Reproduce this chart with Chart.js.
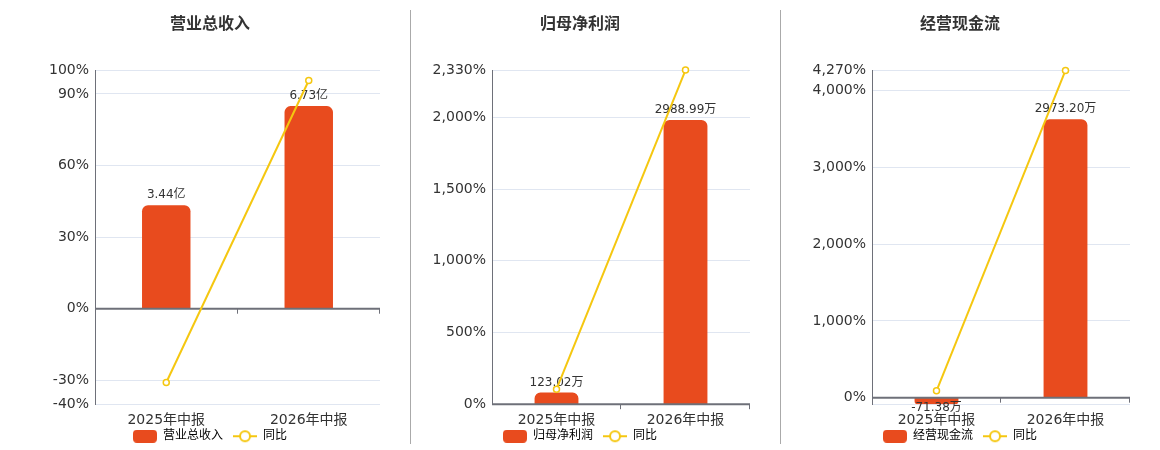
<!DOCTYPE html>
<html>
<head>
<meta charset="utf-8">
<script src="https://cdn.jsdelivr.net/npm/chart.js@4.4.1/dist/chart.umd.min.js"></script>
<style>
html, body { margin: 0; width: 1160px; height: 450px; overflow: hidden; background: #fff; }
.panel { position: absolute; top: 0; height: 469px; }
.sep { position: absolute; top: 10px; width: 1px; height: 434px; background: #aaa; }
</style>
</head>
<body>
<div class="panel" style="left:0;width:420px"><canvas id="c1"></canvas></div>
<div class="panel" style="left:400px;width:360px"><canvas id="c2"></canvas></div>
<div class="panel" style="left:780px;width:360px"><canvas id="c3"></canvas></div>
<div class="sep" style="left:410px"></div>
<div class="sep" style="left:780px"></div>
<script>
var categories = ['2025年中报', '2026年中报'];

var revenue = [3.44, 6.73];          // 亿
var revenueYoy = [-30.9, 95.6];
var revenueTicks = [-40, -30, 0, 30, 60, 90, 100];

var profit = [123.02, 2988.99];      // 万
var profitYoy = [105, 2329.7];
var profitTicks = [0, 500, 1000, 1500, 2000, 2330];

var cash = [-71.38, 2973.20];        // 万
var cashYoy = [89, 4265];
var cashTicks = [0, 1000, 2000, 3000, 4000, 4270];

var RED = '#E84B1E';
var YELLOW = '#F5C710';

Chart.defaults.font.family = "'DejaVu Sans', 'Noto Sans CJK SC', sans-serif";
Chart.defaults.color = '#333';
Chart.defaults.animation = false;

function barIcon() {
    var c = document.createElement('canvas');
    c.width = 24; c.height = 13;
    var g = c.getContext('2d');
    g.fillStyle = RED;
    g.beginPath();
    g.roundRect(0, 0, 24, 13, 4);
    g.fill();
    return c;
}

function lineIcon() {
    var c = document.createElement('canvas');
    c.width = 24; c.height = 14;
    var g = c.getContext('2d');
    g.strokeStyle = YELLOW;
    g.lineWidth = 2;
    g.beginPath(); g.moveTo(0, 7); g.lineTo(24, 7); g.stroke();
    g.beginPath(); g.arc(12, 7, 5, 0, Math.PI * 2);
    g.fillStyle = '#fff'; g.fill(); g.stroke();
    return c;
}

function pct(v) {
    return v.toLocaleString('en-US') + '%';
}

// zero axis line, category ticks and value labels, drawn under the line series
var barExtras = {
    id: 'barExtras',
    afterDatasetDraw: function (chart, args) {
        if (args.index !== 0) return;
        var ctx = chart.ctx, area = chart.chartArea;
        var y0 = chart.scales.y.getPixelForValue(0);
        var n = chart.data.labels.length;
        var step = (area.right - area.left) / n;
        ctx.save();
        ctx.strokeStyle = '#6E7079';
        ctx.lineWidth = 2;
        ctx.beginPath();
        ctx.moveTo(area.left, y0);
        ctx.lineTo(area.right, y0);
        ctx.stroke();
        ctx.lineWidth = 1;
        ctx.beginPath();
        for (var k = 1; k <= n; k++) {
            var x = Math.round(area.left + k * step) - 0.5;
            ctx.moveTo(x, y0);
            ctx.lineTo(x, y0 + 5);
        }
        ctx.stroke();

        var ds = chart.data.datasets[0];
        ctx.font = "12px 'DejaVu Sans', 'Noto Sans CJK SC', sans-serif";
        ctx.fillStyle = '#333';
        ctx.textAlign = 'center';
        args.meta.data.forEach(function (bar, i) {
            var v = ds.data[i];
            var text = v.toFixed(2) + ds.unit;
            if (v >= 0) {
                ctx.textBaseline = 'bottom';
                ctx.fillText(text, bar.x, bar.y - 4);
            } else {
                ctx.textBaseline = 'middle';
                ctx.fillText(text, bar.x, bar.y + 4);
            }
        });
        ctx.restore();
    }
};

// pull the legend up so it sits right under the category labels
var legendNudge = {
    id: 'legendNudge',
    afterLayout: function (chart) {
        var lg = chart.legend;
        var h = lg.bottom - lg.top;
        lg.top = chart.chartArea.bottom + 16;
        lg.bottom = lg.top + h;
    }
};

function makeChart(id, title, barName, bars, unit, yoy, ticks, yMin, yMax, barMax, leftW, rightW) {
    var bIcon = barIcon(), lIcon = lineIcon();
    var tickVals = ticks.indexOf(yMin) < 0 ? [yMin].concat(ticks) : ticks;
    return new Chart(document.getElementById(id), {
        type: 'bar',
        data: {
            labels: categories,
            datasets: [{
                type: 'bar',
                label: barName,
                unit: unit,
                data: bars,
                yAxisID: 'y1',
                backgroundColor: RED,
                barPercentage: 0.34,
                categoryPercentage: 1,
                borderRadius: 6,
                borderSkipped: 'start'
            }, {
                type: 'line',
                label: '同比',
                data: yoy,
                yAxisID: 'y',
                order: -1,
                clip: false,
                borderColor: YELLOW,
                borderWidth: 2,
                pointRadius: 3,
                pointBorderWidth: 1.5,
                pointBackgroundColor: '#fff',
                pointBorderColor: YELLOW,
                tension: 0
            }]
        },
        options: {
            responsive: true,
            maintainAspectRatio: false,
            layout: { padding: 0 },
            plugins: {
                title: {
                    display: true,
                    text: title,
                    color: '#333',
                    font: { size: 16, weight: 'bold' },
                    padding: { top: 15, bottom: 35.8 }
                },
                legend: {
                    position: 'bottom',
                    labels: {
                        usePointStyle: true,
                        pointStyleWidth: 24,
                        padding: 10,
                        color: '#333',
                        font: { size: 12 },
                        generateLabels: function () {
                            return [
                                { text: barName, pointStyle: bIcon, datasetIndex: 0, hidden: false, lineWidth: 0 },
                                { text: '同比', pointStyle: lIcon, datasetIndex: 1, hidden: false, lineWidth: 0 }
                            ];
                        }
                    }
                },
                tooltip: { enabled: false }
            },
            scales: {
                x: {
                    grid: { display: false, drawTicks: false },
                    border: { display: false },
                    ticks: { color: '#333', font: { size: 14 }, padding: 8 }
                },
                y: {
                    position: 'left',
                    min: yMin,
                    max: yMax,
                    afterBuildTicks: function (a) {
                        a.ticks = tickVals.map(function (v) { return { value: v }; });
                    },
                    ticks: {
                        color: '#333',
                        font: { size: 14 },
                        padding: 6,
                        callback: function (v) { return ticks.indexOf(v) < 0 ? '' : pct(v); }
                    },
                    grid: { color: '#E0E6F1', drawTicks: false },
                    border: { color: '#6E7079', width: 1 },
                    afterFit: function (a) { a.width = leftW; }
                },
                y1: {
                    position: 'right',
                    min: barMax * yMin / yMax,
                    max: barMax,
                    grid: { display: false },
                    border: { display: false },
                    ticks: { display: false },
                    afterFit: function (a) { a.width = rightW; }
                }
            }
        },
        plugins: [barExtras, legendNudge]
    });
}

makeChart('c1', '营业总收入', '营业总收入', revenue, '亿', revenueYoy, revenueTicks, -40, 100, 7.93, 95, 40);
makeChart('c2', '归母净利润', '归母净利润', profit, '万', profitYoy, profitTicks, 0, 2330, 3515, 92, 10);
makeChart('c3', '经营现金流', '经营现金流', cash, '万', cashYoy, cashTicks, -85, 4270, 3500, 92, 10);
</script>
</body>
</html>
